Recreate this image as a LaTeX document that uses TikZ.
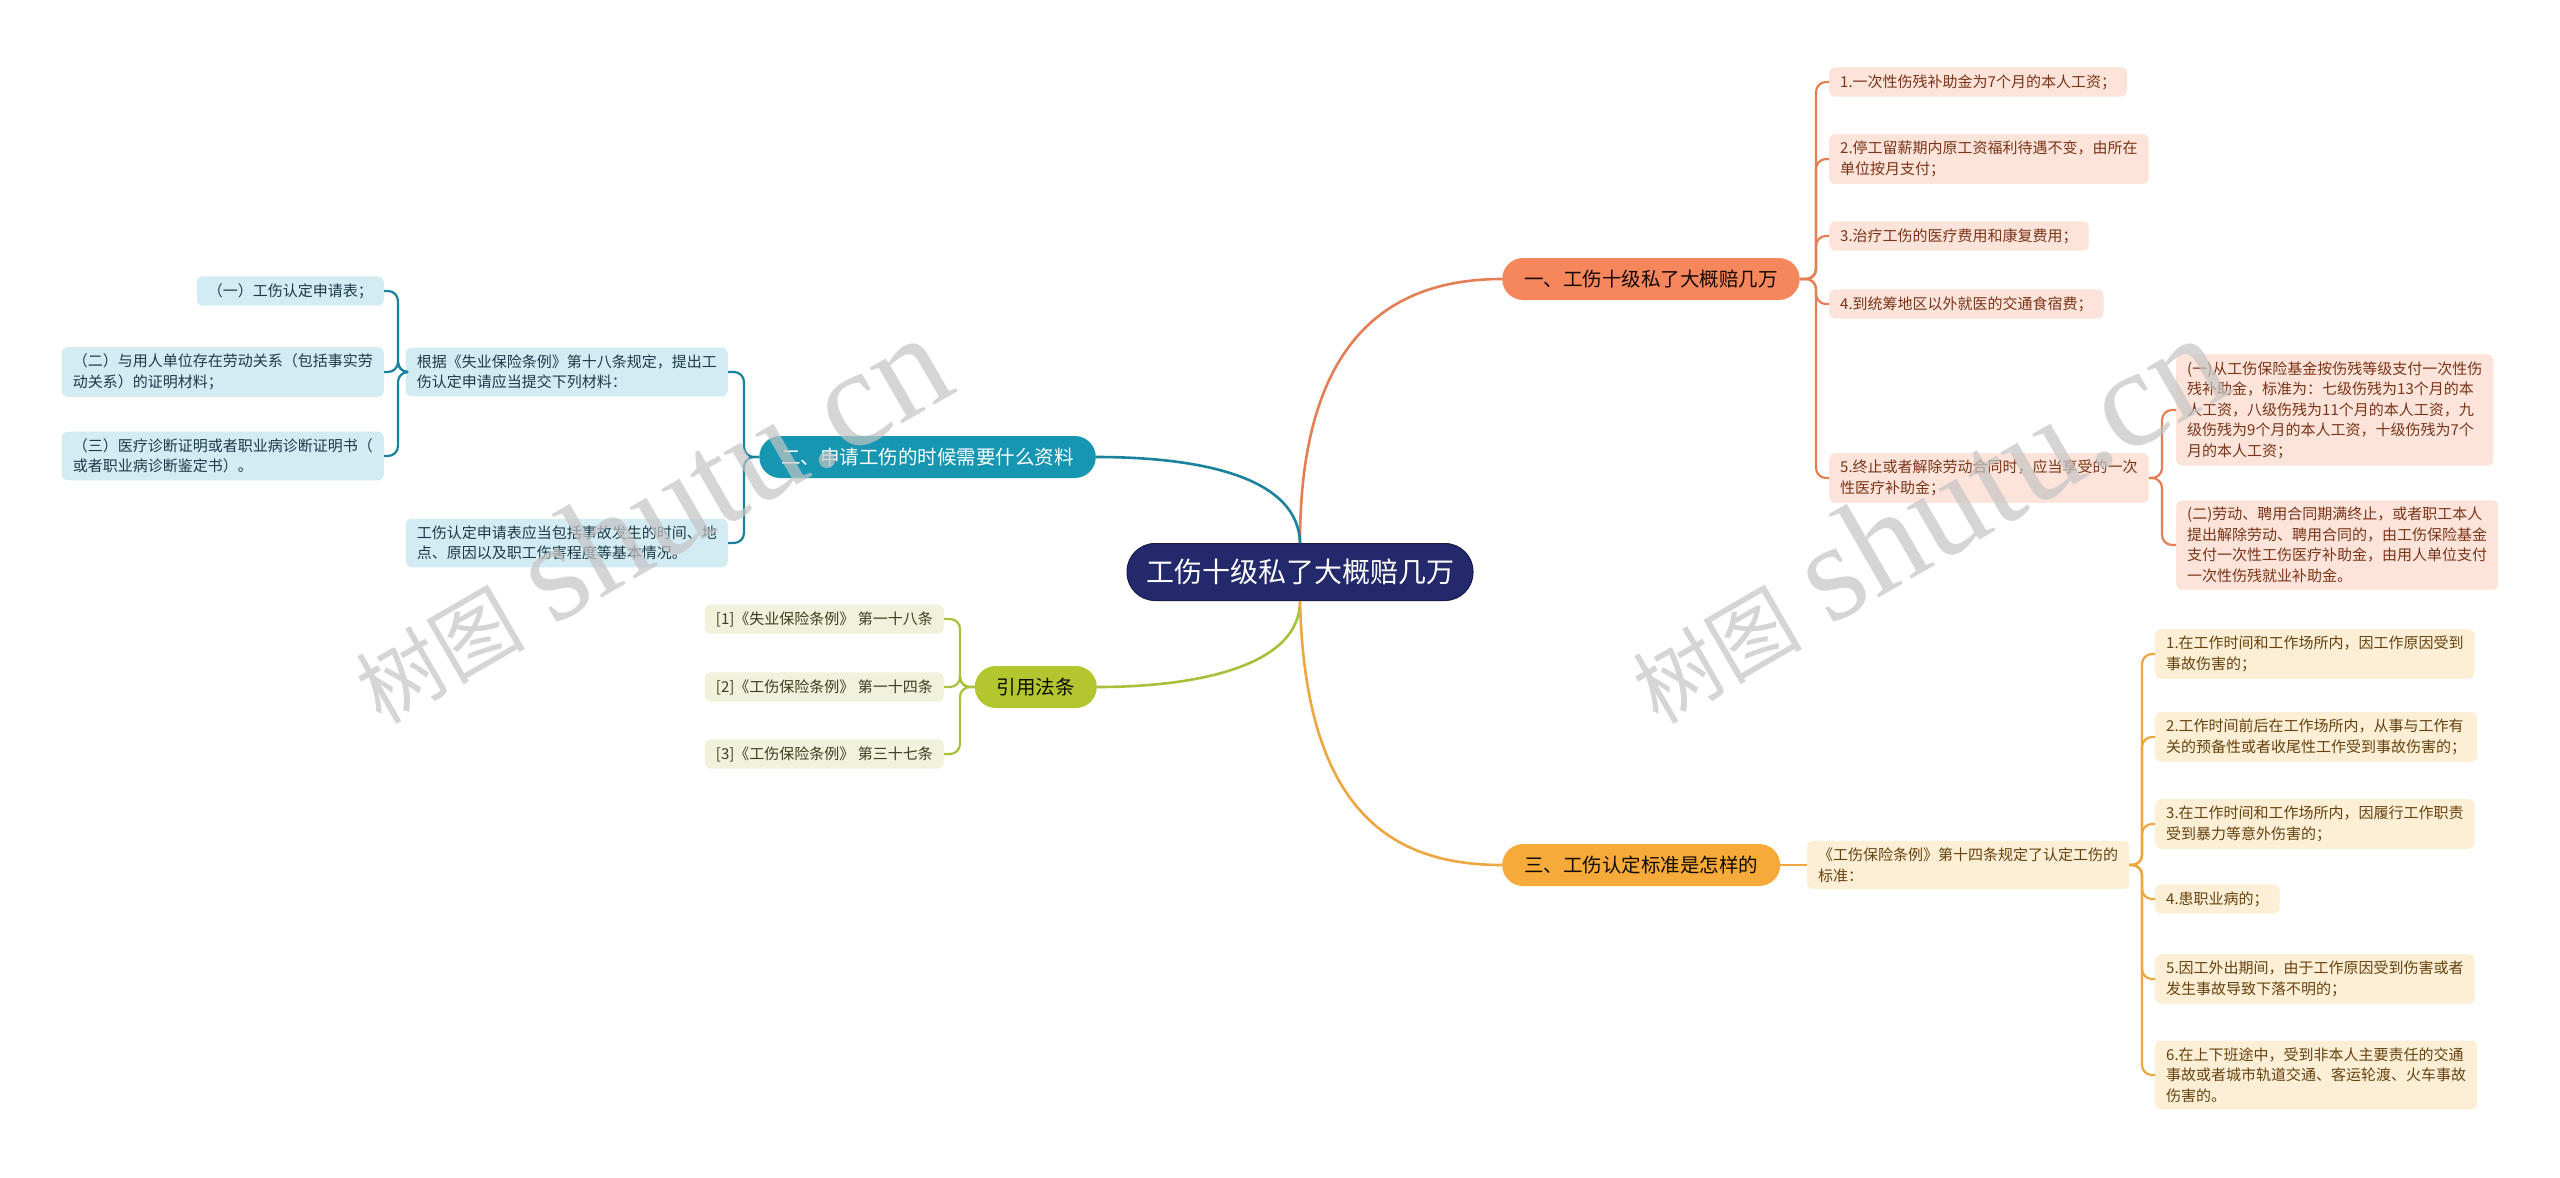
\documentclass[tikz,border=0pt]{standalone}
\usepackage{fontspec}
\setmainfont{Noto Sans CJK SC}
\newfontfamily\wmserif{Liberation Serif}
\definecolor{navy}{HTML}{23296B}
\definecolor{oFill}{HTML}{F6865B}
\definecolor{oLine}{HTML}{E47E55}
\definecolor{oLeaf}{HTML}{FDE4DA}
\definecolor{oText}{HTML}{7A3418}
\definecolor{tFill}{HTML}{1796B1}
\definecolor{tLine}{HTML}{1A829C}
\definecolor{tLeaf}{HTML}{D3ECF4}
\definecolor{tText}{HTML}{1D3A48}
\definecolor{lFill}{HTML}{B4C62F}
\definecolor{lLine}{HTML}{A9C03A}
\definecolor{lLeaf}{HTML}{F0F2DB}
\definecolor{lText}{HTML}{3C3F1E}
\definecolor{yFill}{HTML}{F6AA3A}
\definecolor{yLine}{HTML}{EDA640}
\definecolor{yLeaf}{HTML}{FDEFD6}
\definecolor{yText}{HTML}{66420F}
\definecolor{wmGray}{HTML}{C4C4C4}
\tikzset{
  leaf/.style={rounded corners=6pt, inner xsep=11pt, inner ysep=7pt, align=left,
    font=\fontsize{15}{20.5}\selectfont},
  oleaf/.style={leaf, fill=oLeaf, text=oText},
  tleaf/.style={leaf, fill=tLeaf, text=tText},
  lleaf/.style={leaf, fill=lLeaf, text=lText},
  yleaf/.style={leaf, fill=yLeaf, text=yText},
  topic/.style={rounded corners=21pt, minimum height=42pt, inner xsep=22pt, inner ysep=0pt,
    font=\fontsize{19.5}{22}\selectfont},
  mainbranch/.style={line width=2.6pt},
  subline/.style={line width=2.2pt, rounded corners=10pt},
  wmark/.style={rotate=30, text=wmGray, opacity=0.7, inner sep=0pt}
}
\begin{document}
\begin{tikzpicture}[x=1pt, y=-1pt]
\path[use as bounding box, fill=white] (0,0) rectangle (2560,1178);

% central
\node[fill=navy, draw=navy!70!black, line width=1pt, rounded corners=28pt, minimum width=346pt,
  minimum height=57pt, text=white, font=\fontsize{28}{30}\selectfont] (c) at (1300,572) {工伤十级私了大概赔几万};

% topics
\node[topic, fill=oFill, text=black!85!oText, anchor=west] (b1) at (1502,279) {一、工伤十级私了大概赔几万};
\node[topic, fill=tFill, text=white, anchor=east] (b2) at (1096,457) {二、申请工伤的时候需要什么资料};
\node[topic, fill=lFill, text=black!85!lText, anchor=east] (b3) at (1097,687) {引用法条};
\node[topic, fill=yFill, text=black!85!yText, anchor=west] (b4) at (1502,865) {三、工伤认定标准是怎样的};

% branch 1 leaves
\node[oleaf, anchor=west] (a1) at (1829,82) {1.一次性伤残补助金为7个月的本人工资；};
\node[oleaf, anchor=west] (a2) at (1829,159) {2.停工留薪期内原工资福利待遇不变，由所在\\单位按月支付；};
\node[oleaf, anchor=west] (a3) at (1829,236) {3.治疗工伤的医疗费用和康复费用；};
\node[oleaf, anchor=west] (a4) at (1829,304) {4.到统筹地区以外就医的交通食宿费；};
\node[oleaf, anchor=west] (a5) at (1829,478) {5.终止或者解除劳动合同时，应当享受的一次\\性医疗补助金；};
\node[oleaf, anchor=west] (a51) at (2176,410) {(一)从工伤保险基金按伤残等级支付一次性伤\\残补助金，标准为：七级伤残为13个月的本\\人工资，八级伤残为11个月的本人工资，九\\级伤残为9个月的本人工资，十级伤残为7个\\月的本人工资；};
\node[oleaf, anchor=west] (a52) at (2176,545) {(二)劳动、聘用合同期满终止，或者职工本人\\提出解除劳动、聘用合同的，由工伤保险基金\\支付一次性工伤医疗补助金，由用人单位支付\\一次性伤残就业补助金。};

% branch 2 leaves
\node[tleaf, anchor=east] (p1) at (728,372) {根据《失业保险条例》第十八条规定，提出工\\伤认定申请应当提交下列材料：};
\node[tleaf, anchor=east] (p2) at (728,543) {工伤认定申请表应当包括事故发生的时间、地\\点、原因以及职工伤害程度等基本情况。};
\node[tleaf, anchor=east] (p11) at (384,291) {（一）工伤认定申请表；};
\node[tleaf, anchor=east] (p12) at (384,372) {（二）与用人单位存在劳动关系（包括事实劳\\动关系）的证明材料；};
\node[tleaf, anchor=east] (p13) at (384,456) {（三）医疗诊断证明或者职业病诊断证明书（\\或者职业病诊断鉴定书）。};

% branch 3 leaves
\node[lleaf, anchor=east] (r1) at (944,619) {[1]《失业保险条例》 第一十八条};
\node[lleaf, anchor=east] (r2) at (944,687) {[2]《工伤保险条例》 第一十四条};
\node[lleaf, anchor=east] (r3) at (944,754) {[3]《工伤保险条例》 第三十七条};

% branch 4 leaves
\node[yleaf, anchor=west] (s0) at (1807,865) {《工伤保险条例》第十四条规定了认定工伤的\\标准：};
\node[yleaf, anchor=west] (s1) at (2155,654) {1.在工作时间和工作场所内，因工作原因受到\\事故伤害的；};
\node[yleaf, anchor=west] (s2) at (2155,737) {2.工作时间前后在工作场所内，从事与工作有\\关的预备性或者收尾性工作受到事故伤害的；};
\node[yleaf, anchor=west] (s3) at (2155,824) {3.在工作时间和工作场所内，因履行工作职责\\受到暴力等意外伤害的；};
\node[yleaf, anchor=west] (s4) at (2155,899) {4.患职业病的；};
\node[yleaf, anchor=west] (s5) at (2155,979) {5.因工外出期间，由于工作原因受到伤害或者\\发生事故导致下落不明的；};
\node[yleaf, anchor=west] (s6) at (2155,1075) {6.在上下班途中，受到非本人主要责任的交通\\事故或者城市轨道交通、客运轮渡、火车事故\\伤害的。};

% central connectors
\draw[mainbranch, oLine] (c.north) .. controls (1300,350) and (1380,279) .. (b1.west);
\draw[mainbranch, tLine] (c.north) .. controls (1298,470) and (1180,457) .. (b2.east);
\draw[mainbranch, lLine] (c.south) .. controls (1300,665) and (1200,687) .. (b3.east);
\draw[mainbranch, yLine] (c.south) .. controls (1305,810) and (1390,865) .. (b4.west);

% branch 1 connectors
\coordinate (o1) at (1816,279);
\foreach \n in {a1,a2,a3,a4,a5} {
  \draw[subline, oLine] (b1.east) -- (o1) |- (\n.west);
}
\coordinate (o5) at (2162,478);
\foreach \n in {a51,a52} {
  \draw[subline, oLine] (a5.east) -- (o5) |- (\n.west);
}

% branch 2 connectors
\coordinate (t1) at (744,457);
\foreach \n in {p1,p2} {
  \draw[subline, tLine] (b2.west) -- (t1) |- (\n.east);
}
\coordinate (t2) at (398,372);
\foreach \n in {p11,p12,p13} {
  \draw[subline, tLine] (p1.west) -- (t2) |- (\n.east);
}

% branch 3 connectors
\coordinate (l1) at (960,687);
\foreach \n in {r1,r2,r3} {
  \draw[subline, lLine] (b3.west) -- (l1) |- (\n.east);
}

% branch 4 connectors
\draw[subline, yLine] (b4.east) -- (s0.west);
\coordinate (y1) at (2142,865);
\foreach \n in {s1,s2,s3,s4,s5,s6} {
  \draw[subline, yLine] (s0.east) -- (y1) |- (\n.west);
}

% watermarks
\node[wmark] (wm1) at (648,519) {\fontsize{85}{85}\selectfont 树图\hspace{28pt}{\wmserif\fontsize{140}{140}\selectfont shutu.cn}};
\node[wmark] (wm2) at (1925,519) {\fontsize{85}{85}\selectfont 树图\hspace{28pt}{\wmserif\fontsize{140}{140}\selectfont shutu.cn}};
\end{tikzpicture}
\end{document}
